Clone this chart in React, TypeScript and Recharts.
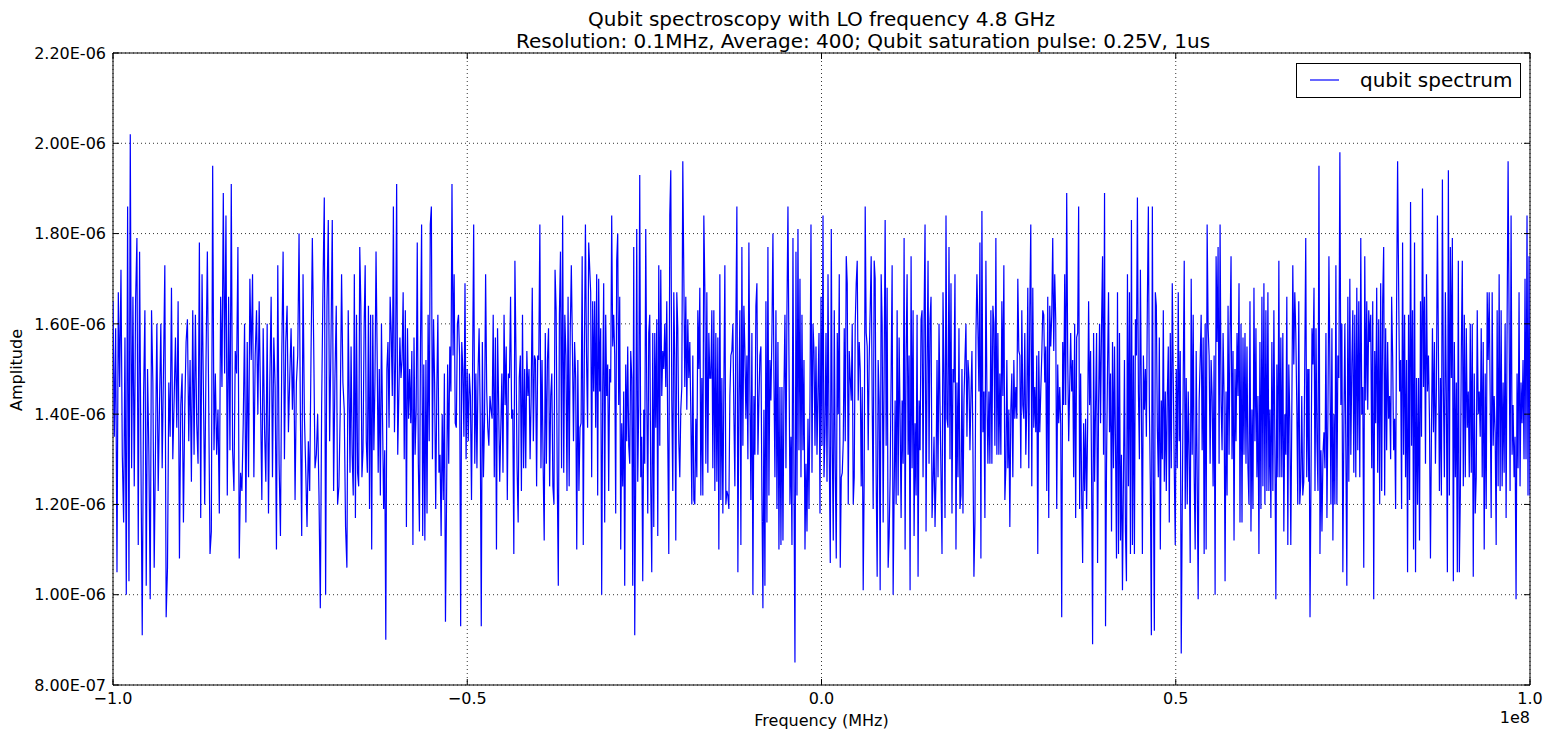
import { LineChart, Line, XAxis, YAxis, CartesianGrid, ReferenceArea } from "recharts";

// amplitude readings, in units of 1e-8
// each piece is spread evenly over its frequency span (MHz)
const seg1 = [165,135,159,105,167,146,172,131,116,157,100,186,103,202,128,166,124,165,179,111,176,131,91,144,163,102,150,131,99,163,147,106,133,160,123,142,160,128,150,173,95,106,147,135,168,130,143,157,137,165,108,142,149,116,141,156,161,134,152,125,163,131,162,138,129,178,117,171,146,120,152,176,143,109,114,195,132,149,131,141,118,166,146,189,149,184,122,166,132,191,132,123,154,149,177,108,127,123,138,160,116,156,126,170,152,171,126,153,163,140,165,143,121,159,137,125,160,118,147,166,126,157,146,110,173,129,113,153,176,130,156,164,136,148,159,141,155,121,147,153,180,140,113,171,140,128,115,134,123,153,179,156,128,131,140,122,97,142,168,188,100,164,183,134,155,183,123,148,164,120,124,141,171,147,141,115,106,163];
const seg2 = [127,155,131,122,171,117,162,127,124,177,164,126,132,159,173,134,127,164,119,162,110,162,132,147,176,154,127,150,122,160,139,119,132,90,150,156,137,166,158,144,186,136,152,191,131,144,157,148,152,167,130,163,115,159,139,150,138,154,111,157,131,141,178,129,114,156,182,113,151,112,152,118,162,134,182,186,130,161,147,119,145,162,127,131,113,140,121,149,94,121,151,129,155,145,191,153,171,138,137,160,162,153,93,156,150,135,169,130,150,134,149,144,121,150,182,129,149,128,149,159,140,93,156,126,139,171,145,137,133,144,141,139,162,126,157,110,159,142,125,137,149,127,162,142,155,121,149,148,166,139,141,109,174,153,128,116,148,153,123,162,128,150,128,154,144,150,130,144,168,134,153,152,124,153,152,182,128,152,129,112,158,129,152,159,124,144,149,124,120,172,163,127,102,162,176,128,184,127,162,153,123,166,124,158,173,155,134,156,148,110,152,123,137,138,175,111,153,182,153,137,178];
const seg3 = [167,126,165,145,165,137,171,122,170,145,159,100,145,169,116,162,144,151,123,150,147,184,155,162,153,118,174,180,142,166,110,138,124,145,102,151,134,155,133,129,154,148,102,177,91,127,181,125,142,193,126,135,103,141,129,181,145,118,158,162,124,105,158,115,158,137,161,113,173,133,172,144,154,150,160,146,165,134,109,184,194,143,123,167,152,112,167,159,134,126,141,146,196,171,146,166,141,161,148,156,140,120,153,121,120,139,126,163,150,168,122,148,122,184,168,129,167,127,158,148,148,163,128,163,123,158,125,157,110,171,121,148,118,146,173,120,123,122,119,144,153,154,160,140,124,160,186,105,144,163,111,177,133,164,154,139,153,130,178,145,121,158,100,144,131,164,169,131,143,153,155,122,97,141,102,165,116,177,122,152,143,158,180,148,126,163,119,156,110,146,111,146,112,145,162,128,163,186,153,120,135,111,179,125,85,176,122,181,132,170,126,162,132,152,110,129,114,139,119,144,182,127,160,154,133,155,131,145,158,118,166,133,184,126,136,158,125,171,137];
const seg4 = [107,181,133,112,163,128,108,158,140,171,106,126,127,134,159,134,175,169,120,154,148,143,160,120,126,160,169,174,143,156,150,124,146,101,126,186,158,155,132,152,163,175,143,119,174,170,126,104,152,143,101,171,160,116,150,183,133,168,106,113,126,149,173,100,122,143,120,163,122,157,139,117,143,129,179,110,153,171,131,153,101,175,128,163,113,138,122,162,104,143,132,161,163,126,161,182,114,150,174,129,161,166,117,125,135,115,126,152,126,160,142,126,109,167,148,117,184,139,137,177,130,169,118,150,147,171,110,147,126,159,119,122,150,118,143,152,160,135,152,148,132,144,154,132,104,116,157,171,159,145,178,108,185,136,145,117,174,145,129,145,129,163,129,164,160,133,179,131,158,131,149,131,165,144,173,121,128,152,128,141,115,141,149,126,152,139,146,139,170,154,153,128,163,142,139,158,131,142,168,128,163,182,124,168,137,146,136,153,109,154,136,145,153,163,162,147,155,123,166,117,164,155,162,179,154,171,161,119,151,138,146,138,95,156,142,171,142,189,153,134];
const seg5 = [158,145,152,126,160,117,157,158,186,119,149,123,107,138,123,139,119,137,165,142,154,126,89,158,125,142,158,107,142,160,138,160,175,131,189,93,129,150,167,136,149,114,156,128,155,133,108,167,109,158,112,131,101,126,152,114,103,171,124,167,109,183,111,153,109,161,153,188,145,130,172,143,109,153,141,150,135,165,186,142,124,91,186,126,92,167,164,137,126,157,110,143,130,163,125,145,123,144,155,116,158,128,169,148,128,111,150,128,167,134,154,87,119,148,174,119,148,120,145,131,107,170,131,162,126,110,154,126,99,143,152,162,132,157,109,160,110,182,159,153,129,152,144,124,153,100,175,156,177,129,182,143,132,158,144,103,145,122,164,131,158,175,130,154,112,150,134,158,144,169,116,160,116,157,131,158,129,155,128,120,165,114,141,119,168,134,159,126,144,109,156,119,166,124,169,120,163,123,167,123,141,117,156,123,163,134,99,151,126,174,126,157,126,158,114,140,131,166,111,151,139,111,140,173,151,167,158,142,120,165,120,125,144,122,125,151,179,126,150,125];
const seg6 = [150,95,126,159,151,168,123,159,134,123,195,109,132,114,131,136,128,158,117,140,175,150,120,159,112,140,120,173,120,153,148,198,142,160,105,137,160,132,102,166,125,170,131,151,163,127,162,126,168,132,165,126,179,140,146,106,175,143,165,141,163,156,162,128,165,99,154,138,168,127,161,120,169,123,165,177,122,159,132,156,139,144,130,166,153,132,139,119,165,196,169,145,152,119,178,131,162,126,152,105,162,121,187,133,163,110,178,105,148,120,148,112,165,135,190,146,166,129,171,145,153,139,108,136,159,136,156,129,146,184,154,123,148,122,192,145,126,167,143,105,194,122,177,148,179,103,156,126,147,105,174,105,122,154,174,124,162,126,159,137,145,126,160,127,160,104,149,118,126,163,140,145,135,159,126,156,110,149,119,167,152,167,144,117,167,133,144,136,111,163,124,171,123,163,124,147,127,160,117,160,196,160,123,184,131,142,126,135,99,149,128,167,124,147,138,152,130,170,130,184,122,175,122];

const segments = [
  { from: -100, to: -66.8, amp: seg1 },
  { from: -66.55, to: -32.86, amp: seg2 },
  { from: -32.58, to: 1.06, amp: seg3 },
  { from: 1.24, to: 34.89, amp: seg4 },
  { from: 35.17, to: 68.77, amp: seg5 },
  { from: 68.81, to: 100, amp: seg6 },
];

const yTicks = [8e-7, 1e-6, 1.2e-6, 1.4e-6, 1.6e-6, 1.8e-6, 2e-6, 2.2e-6];
const xTicks = [-1e8, -5e7, 0, 5e7, 1e8];
const xTickLabels = ["\u22121.0", "\u22120.5", "0.0", "0.5", "1.0"];

const data = segments.flatMap((s) =>
  s.amp.map((v, i) => ({
    freq: (s.from + ((s.to - s.from) * i) / (s.amp.length - 1)) * 1e6,
    amp: v * 1e-8,
  }))
);

const W = 1554;
const H = 738;
const PLOT_W = 1417;
const PLOT_H = 632;
const FONT = "'DejaVu Sans', sans-serif";

const fmtY = (v: number) => {
  const [m, e] = v.toExponential(2).split("e");
  const n = parseInt(e, 10);
  return `${m}E${n < 0 ? "-" : "+"}${String(Math.abs(n)).padStart(2, "0")}`;
};

const YTick = (props: any) => {
  const { x, y, payload } = props;
  return (
    <g>
      <line x1={x} y1={y} x2={x + 6} y2={y} stroke="#000" />
      <line x1={x + PLOT_W} y1={y} x2={x + PLOT_W - 6} y2={y} stroke="#000" />
      <text x={x - 7} y={y} dy="0.36em" textAnchor="end" fontSize={16} fontFamily={FONT} fill="#000">
        {fmtY(payload.value)}
      </text>
    </g>
  );
};

const XTick = (props: any) => {
  const { x, y, payload } = props;
  const idx = xTicks.indexOf(payload.value);
  return (
    <g>
      <line x1={x} y1={y} x2={x} y2={y - 6} stroke="#000" />
      <line x1={x} y1={y - PLOT_H} x2={x} y2={y - PLOT_H + 6} stroke="#000" />
      <text x={x} y={y + 19} textAnchor="middle" fontSize={16} fontFamily={FONT} fill="#000">
        {idx >= 0 ? xTickLabels[idx] : ""}
      </text>
    </g>
  );
};

export default function App() {
  return (
    <div style={{ position: "absolute", left: 0, top: 0, width: W, height: H, background: "#fff" }}>
      <LineChart width={W} height={H} data={data} margin={{ top: 53, right: 24, bottom: 0, left: 0 }}>
        <CartesianGrid stroke="#000" strokeDasharray="1 3" strokeWidth={0.8} />
        <XAxis
          dataKey="freq"
          type="number"
          domain={[-1e8, 1e8]}
          ticks={xTicks}
          interval={0}
          height={53}
          tickSize={0}
          tickMargin={0}
          tickLine={false}
          axisLine={false}
          tick={<XTick />}
          allowDataOverflow
        />
        <YAxis
          type="number"
          domain={[8e-7, 2.2e-6]}
          ticks={yTicks}
          interval={0}
          width={113}
          tickSize={0}
          tickMargin={0}
          tickLine={false}
          axisLine={false}
          tick={<YTick />}
          allowDataOverflow
        />
        <Line
          type="linear"
          dataKey="amp"
          stroke="#0000ff"
          strokeWidth={1.2}
          dot={false}
          activeDot={false}
          isAnimationActive={false}
        />
        <ReferenceArea
          x1={-1e8}
          x2={1e8}
          y1={8e-7}
          y2={2.2e-6}
          fill="none"
          fillOpacity={0}
          stroke="#000"
          strokeWidth={1}
          ifOverflow="visible"
        />
      </LineChart>
      <svg
        width={W}
        height={H}
        style={{ position: "absolute", left: 0, top: 0, pointerEvents: "none" }}
        fontFamily={FONT}
      >
        <text x={821.5} y={26} textAnchor="middle" fontSize={20} fill="#000">
          Qubit spectroscopy with LO frequency 4.8 GHz
        </text>
        <text x={863} y={48} textAnchor="middle" fontSize={20} fill="#000">
          Resolution: 0.1MHz, Average: 400; Qubit saturation pulse: 0.25V, 1us
        </text>
        <text x={821.5} y={726} textAnchor="middle" fontSize={16} fill="#000">
          Frequency (MHz)
        </text>
        <text x={1530} y={723} textAnchor="end" fontSize={16} fill="#000">
          1e8
        </text>
        <text x={22} y={370} textAnchor="middle" fontSize={16} fill="#000" transform="rotate(-90 22 370)">
          Amplitude
        </text>
        <rect x={1296.5} y={63.5} width={224} height={34} fill="#fff" stroke="#000" />
        <line x1={1310} y1={80} x2={1339} y2={80} stroke="#0000ff" strokeWidth={1.2} />
        <text x={1360} y={87} fontSize={20} fill="#000">
          qubit spectrum
        </text>
      </svg>
    </div>
  );
}
